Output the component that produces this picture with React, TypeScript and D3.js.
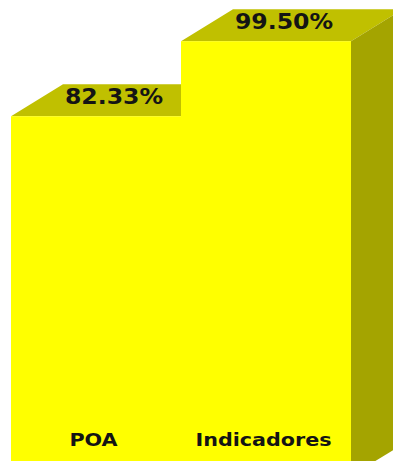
import React from "react";
import * as d3 from "d3";

const categories = ["POA", "Indicadores"];
const values = [82.33, 99.5];
const valueLabels = ["82.33%", "99.50%"];

const W = 393;
const H = 461;
const DX = 52;
const DY = 32;

export default function App() {
  const x = d3.scaleBand<string>().domain(categories).range([11, 351]).padding(0);
  const y = d3.scaleLinear().domain([0, 100]).range([476, 39]);
  const base = y(0);
  const bw = x.bandwidth();
  const pts = (arr: [number, number][]) => arr.map((p) => p.join(",")).join(" ");

  return (
    <svg
      width={W}
      height={H}
      style={{ position: "absolute", left: 0, top: 0, background: "#ffffff" }}
    >
      {categories.map((c, i) => {
        const x0 = x(c) as number;
        const x1 = x0 + bw;
        const yt = y(values[i]);
        return (
          <g key={c}>
            <polygon
              points={pts([
                [x0, yt],
                [x0 + DX, yt - DY],
                [x1 + DX, yt - DY],
                [x1, yt],
              ])}
              fill="#c0c000"
            />
            <polygon
              points={pts([
                [x1, yt],
                [x1 + DX, yt - DY],
                [x1 + DX, base - DY],
                [x1, base],
              ])}
              fill="#a4a400"
            />
            <rect x={x0} y={yt} width={bw} height={base - yt} fill="#ffff00" />
          </g>
        );
      })}
      {categories.map((c, i) => {
        const cx = (x(c) as number) + bw / 2 + 18;
        const yt = y(values[i]) - 12;
        return (
          <text
            key={"v" + c}
            transform={`translate(${cx},${yt}) scale(1.15,1)`}
            textAnchor="middle"
            fontFamily="DejaVu Sans"
            fontWeight="bold"
            fontSize={20.5}
            fill="#141414"
          >
            {valueLabels[i]}
          </text>
        );
      })}
      {categories.map((c) => {
        const cx = (x(c) as number) + bw / 2 - 2.5;
        return (
          <text
            key={"c" + c}
            transform={`translate(${cx},446) scale(1.15,1)`}
            textAnchor="middle"
            fontFamily="DejaVu Sans"
            fontWeight="bold"
            fontSize={18}
            fill="#141414"
          >
            {c}
          </text>
        );
      })}
    </svg>
  );
}
